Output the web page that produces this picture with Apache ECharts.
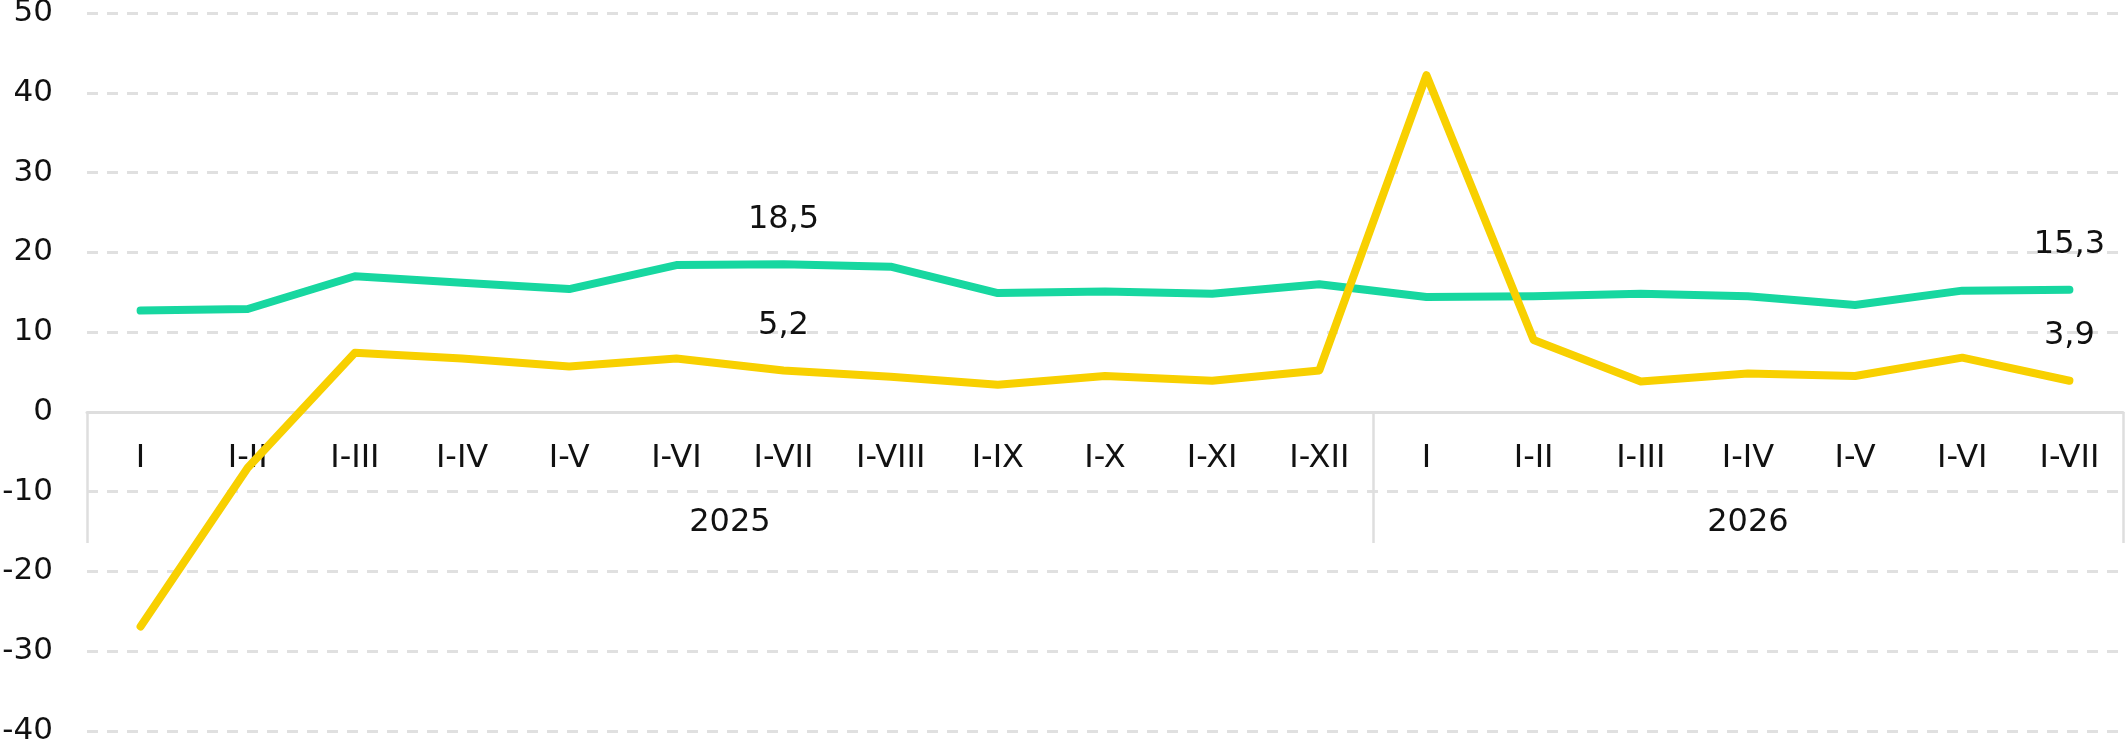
<!DOCTYPE html>
<html>
<head>
<meta charset="utf-8">
<script src="https://cdn.jsdelivr.net/npm/echarts@6/dist/echarts.min.js"></script>
<style>
html,body{margin:0;padding:0;background:#fff;}
#chart{width:2125px;height:744px;}
</style>
</head>
<body>
<div id="chart"></div>
<script>
// Categories (periods), grouped by year
const categories = ['I','I-II','I-III','I-IV','I-V','I-VI','I-VII','I-VIII','I-IX','I-X','I-XI','I-XII',
                    'I','I-II','I-III','I-IV','I-V','I-VI','I-VII'];
const years = ['2025', '2026'];
const yearSpans = [12, 7];

// Series values
const greenValues = [12.7, 12.9, 17.0, 16.2, 15.4, 18.4, 18.5, 18.2, 14.9, 15.1, 14.8, 16.0,
                     14.4, 14.5, 14.8, 14.5, 13.4, 15.2, 15.3];
const yellowValues = [-26.9, -7.0, 7.4, 6.7, 5.7, 6.7, 5.2, 4.4, 3.4, 4.5, 3.9, 5.2,
                      42.2, 9.0, 3.8, 4.8, 4.5, 6.8, 3.9];
const labelIndices = [6, 18];

// Y axis ticks
const yMin = -40, yMax = 50, yStep = 10;

const FONT = 'Verdana, "DejaVu Sans", sans-serif';
const GRAY = '#dedede';

const W = 2125, H = 744;
const GRID = { left: 87, right: 2, top: 13, bottom: 13 };
// the category axis sits on the value 0 of the y scale
const zeroOffset = -(H - GRID.top - GRID.bottom) * (0 - yMin) / (yMax - yMin);

// year group boundaries and centers (in category index units)
const boundaries = [-0.5];
const centers = [];
yearSpans.forEach(function (s) {
  const start = boundaries[boundaries.length - 1];
  boundaries.push(start + s);
  centers.push(start + s / 2);
});

function fmt(v) { return v.toFixed(1).replace('.', ','); }

function buildData(values) {
  return values.map(function (v, i) {
    if (labelIndices.indexOf(i) >= 0) {
      return { value: v, label: { show: true } };
    }
    return v;
  });
}

const chart = echarts.init(document.getElementById('chart'), null, { renderer: 'canvas' });
chart.setOption({
  animation: false,
  backgroundColor: '#ffffff',
  textStyle: { fontFamily: FONT },
  grid: { left: GRID.left, right: GRID.right, top: GRID.top, bottom: GRID.bottom,
          containLabel: false, outerBoundsMode: 'none' },
  xAxis: [
    {
      type: 'category',
      data: categories,
      boundaryGap: true,
      position: 'bottom',
      offset: zeroOffset,
      axisLine: { show: true, onZero: false, lineStyle: { color: GRAY, width: 3 } },
      axisTick: { show: false },
      axisLabel: { interval: 0, fontSize: 32, color: '#111', margin: 31, fontFamily: FONT },
      splitLine: { show: false }
    },
    {
      type: 'value',
      min: -0.5,
      max: categories.length - 0.5,
      position: 'bottom',
      offset: zeroOffset,
      axisLine: { show: false, onZero: false },
      axisTick: {
        show: true,
        customValues: boundaries,
        length: 131,
        lineStyle: { color: GRAY, width: 2.5 }
      },
      axisLabel: {
        show: true,
        customValues: centers,
        fontSize: 32,
        color: '#111',
        margin: 95,
        fontFamily: FONT,
        formatter: function (v) {
          for (let k = 0; k < centers.length; k++) {
            if (Math.abs(centers[k] - v) < 1e-6) return years[k];
          }
          return '';
        }
      },
      splitLine: { show: false }
    }
  ],
  yAxis: {
    type: 'value',
    min: yMin,
    max: yMax,
    interval: yStep,
    axisLine: { show: false, onZero: false },
    axisTick: { show: false },
    axisLabel: { fontSize: 31, color: '#111', margin: 34, fontFamily: FONT },
    splitLine: { show: true, lineStyle: { color: '#e0e0e0', width: 3, type: [11, 9] } }
  },
  series: [
    {
      type: 'line',
      data: buildData(greenValues),
      symbol: 'circle',
      symbolSize: 2,
      showSymbol: true,
      smooth: false,
      lineStyle: { color: '#17D7A0', width: 8, cap: 'round', join: 'round' },
      itemStyle: { color: '#17D7A0' },
      label: { show: false, position: 'top', distance: 28, fontSize: 32, color: '#111', fontFamily: FONT,
               formatter: function (p) { return fmt(p.value); } },
      z: 2
    },
    {
      type: 'line',
      data: buildData(yellowValues),
      symbol: 'circle',
      symbolSize: 2,
      showSymbol: true,
      smooth: false,
      lineStyle: { color: '#F8D000', width: 8, cap: 'round', join: 'round' },
      itemStyle: { color: '#F8D000' },
      label: { show: false, position: 'top', distance: 28, fontSize: 32, color: '#111', fontFamily: FONT,
               formatter: function (p) { return fmt(p.value); } },
      z: 3
    }
  ]
});
</script>
</body>
</html>
